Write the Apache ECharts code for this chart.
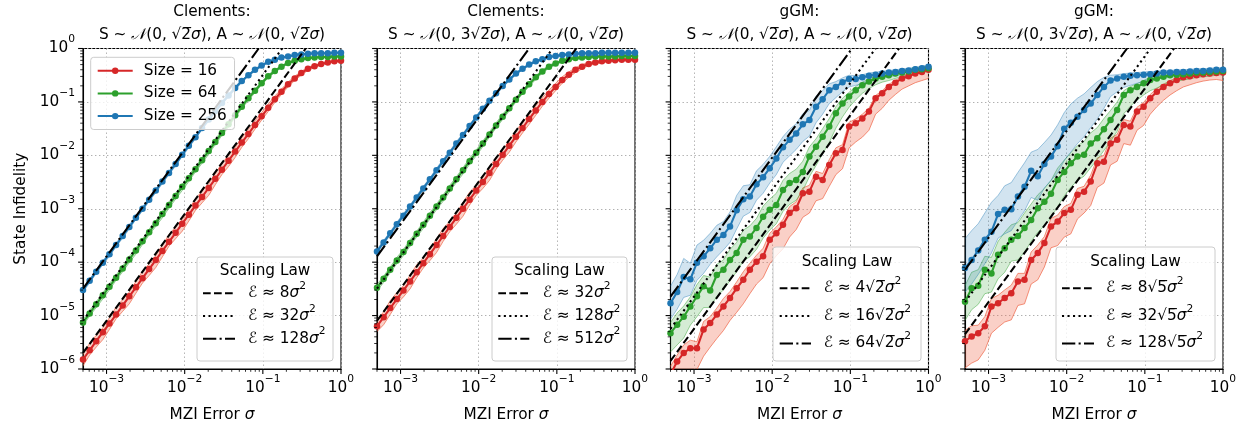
<!DOCTYPE html>
<html><head><meta charset="utf-8">
<script src="https://cdn.jsdelivr.net/npm/echarts@6.0.0/dist/echarts.min.js"></script>
<style>html,body{margin:0;padding:0;background:#fff;}#chart{width:1250px;height:425px;}</style>
</head><body><div id="chart"></div>
<script>
// ---------------- DATA ----------------
// MZI error sigma (x values, shared by all panels)
const sigma = [5.00e-4,6.08e-4,7.38e-4,8.97e-4,1.09e-3,1.325e-3,1.61e-3,1.956e-3,2.377e-3,2.888e-3,
  3.51e-3,4.266e-3,5.184e-3,6.3e-3,7.655e-3,9.302e-3,1.130e-2,1.374e-2,1.669e-2,2.028e-2,
  2.465e-2,2.995e-2,3.64e-2,4.423e-2,5.375e-2,6.532e-2,7.937e-2,9.645e-2,0.1172,0.1424,
  0.1731,0.2103,0.2556,0.3106,0.3774,0.4586,0.5573,0.6772,0.8229,1.0];
const sizeNames = ['Size = 16','Size = 64','Size = 256'];

// State infidelity, stored as log10 values; *_up / *_dn = band extent above / below (decades)
// Panel 1: Clements, S~N(0,√2σ)
const clem1_n16 = [-5.82,-5.65,-5.48,-5.31,-5.15,-4.98,-4.81,-4.64,-4.47,-4.30,-4.13,-3.96,-3.79,-3.62,-3.45,-3.28,-3.11,-2.94,-2.78,-2.61,-2.44,-2.27,-2.10,-1.93,-1.76,-1.60,-1.43,-1.27,-1.11,-0.95,-0.81,-0.67,-0.56,-0.46,-0.38,-0.33,-0.29,-0.26,-0.24,-0.23];
const clem1_n16_up = [0.10,0.13,0.11,0.08,0.11,0.14,0.11,0.08,0.11,0.13,0.10,0.08,0.11,0.14,0.11,0.08,0.10,0.13,0.11,0.08,0.10,0.12,0.10,0.08,0.09,0.09,0.08,0.07,0.07,0.06,0.05,0.04,0.04,0.03,0.03,0.02,0.02,0.02,0.02,0.02];
const clem1_n16_dn = [0.12,0.09,0.11,0.14,0.11,0.08,0.11,0.14,0.11,0.09,0.12,0.14,0.11,0.08,0.11,0.14,0.12,0.09,0.11,0.14,0.11,0.09,0.11,0.11,0.09,0.09,0.08,0.07,0.07,0.06,0.05,0.05,0.04,0.04,0.03,0.03,0.02,0.02,0.02,0.02];
const clem1_n64 = [-5.13,-4.96,-4.79,-4.62,-4.46,-4.29,-4.12,-3.95,-3.78,-3.61,-3.44,-3.27,-3.10,-2.93,-2.76,-2.59,-2.43,-2.26,-2.09,-1.92,-1.75,-1.58,-1.42,-1.25,-1.09,-0.93,-0.79,-0.65,-0.52,-0.42,-0.34,-0.27,-0.23,-0.20,-0.18,-0.17,-0.16,-0.16,-0.15,-0.15];
const clem1_n64_up = [0.05,0.06,0.05,0.05,0.06,0.05,0.05,0.06,0.05,0.05,0.06,0.05,0.05,0.06,0.05,0.05,0.06,0.05,0.05,0.05,0.05,0.05,0.04,0.04,0.04,0.03,0.03,0.03,0.03,0.02,0.02,0.02,0.02,0.02,0.01,0.01,0.01,0.01,0.01,0.01];
const clem1_n64_dn = [0.06,0.05,0.06,0.07,0.06,0.05,0.06,0.06,0.07,0.06,0.05,0.06,0.07,0.06,0.06,0.07,0.06,0.05,0.06,0.06,0.05,0.05,0.05,0.04,0.04,0.04,0.04,0.03,0.03,0.03,0.02,0.02,0.02,0.02,0.02,0.01,0.01,0.01,0.01,0.01];
const clem1_n256 = [-4.52,-4.35,-4.18,-4.01,-3.85,-3.68,-3.51,-3.34,-3.17,-3.00,-2.83,-2.66,-2.49,-2.33,-2.16,-1.99,-1.82,-1.66,-1.49,-1.33,-1.17,-1.02,-0.88,-0.74,-0.61,-0.50,-0.40,-0.32,-0.25,-0.21,-0.17,-0.15,-0.12,-0.11,-0.10,-0.09,-0.09,-0.09,-0.08,-0.08];
const clem1_n256_up = [0.04,0.03,0.04,0.04,0.03,0.04,0.03,0.04,0.04,0.03,0.04,0.03,0.04,0.03,0.03,0.04,0.03,0.03,0.03,0.03,0.03,0.03,0.03,0.03,0.02,0.02,0.02,0.02,0.02,0.01,0.01,0.01,0.01,0.01,0.01,0.01,0.01,0.01,0.01,0.01];
const clem1_n256_dn = [0.04,0.04,0.03,0.04,0.04,0.03,0.04,0.04,0.03,0.04,0.03,0.04,0.04,0.03,0.04,0.03,0.04,0.03,0.03,0.03,0.03,0.03,0.03,0.03,0.03,0.02,0.02,0.02,0.02,0.02,0.01,0.01,0.01,0.01,0.01,0.01,0.01,0.01,0.01,0.01];

// Panel 2: Clements, S~N(0,3√2σ)
const clem2_n16 = [-5.20,-5.03,-4.86,-4.69,-4.53,-4.36,-4.19,-4.02,-3.85,-3.68,-3.51,-3.34,-3.17,-3.00,-2.83,-2.66,-2.50,-2.33,-2.16,-1.99,-1.82,-1.65,-1.49,-1.32,-1.16,-1.00,-0.85,-0.72,-0.59,-0.49,-0.40,-0.34,-0.29,-0.26,-0.24,-0.23,-0.22,-0.21,-0.21,-0.21];
const clem2_n16_up = [0.12,0.10,0.14,0.12,0.09,0.12,0.14,0.10,0.09,0.12,0.14,0.10,0.09,0.12,0.14,0.10,0.09,0.12,0.12,0.09,0.10,0.12,0.10,0.09,0.09,0.08,0.07,0.07,0.06,0.05,0.04,0.04,0.03,0.03,0.02,0.02,0.02,0.02,0.02,0.02];
const clem2_n16_dn = [0.10,0.14,0.12,0.09,0.12,0.14,0.10,0.09,0.12,0.14,0.10,0.09,0.12,0.14,0.10,0.09,0.12,0.14,0.10,0.10,0.12,0.10,0.09,0.10,0.09,0.08,0.08,0.07,0.06,0.05,0.05,0.04,0.03,0.03,0.03,0.02,0.02,0.02,0.02,0.02];
const clem2_n64 = [-4.48,-4.31,-4.14,-3.97,-3.81,-3.64,-3.47,-3.30,-3.13,-2.96,-2.79,-2.62,-2.45,-2.28,-2.11,-1.95,-1.78,-1.61,-1.44,-1.28,-1.12,-0.96,-0.81,-0.67,-0.54,-0.43,-0.34,-0.28,-0.23,-0.20,-0.18,-0.17,-0.16,-0.15,-0.15,-0.15,-0.15,-0.14,-0.14,-0.14];
const clem2_n64_up = [0.06,0.05,0.05,0.06,0.05,0.06,0.05,0.05,0.06,0.05,0.05,0.06,0.05,0.05,0.06,0.05,0.05,0.05,0.05,0.05,0.04,0.04,0.04,0.03,0.03,0.03,0.03,0.02,0.02,0.02,0.02,0.02,0.01,0.01,0.01,0.01,0.01,0.01,0.01,0.01];
const clem2_n64_dn = [0.06,0.07,0.06,0.06,0.07,0.06,0.06,0.07,0.06,0.06,0.07,0.06,0.06,0.07,0.06,0.06,0.06,0.05,0.05,0.05,0.05,0.04,0.04,0.04,0.04,0.03,0.03,0.03,0.02,0.02,0.02,0.02,0.02,0.01,0.01,0.01,0.01,0.01,0.01,0.01];
const clem2_n256 = [-3.80,-3.63,-3.46,-3.29,-3.13,-2.96,-2.79,-2.62,-2.45,-2.28,-2.11,-1.95,-1.78,-1.62,-1.45,-1.29,-1.13,-0.98,-0.84,-0.70,-0.58,-0.47,-0.38,-0.30,-0.24,-0.20,-0.16,-0.14,-0.12,-0.11,-0.10,-0.09,-0.09,-0.09,-0.08,-0.08,-0.08,-0.08,-0.08,-0.08];
const clem2_n256_up = [0.04,0.04,0.03,0.04,0.04,0.03,0.04,0.04,0.03,0.04,0.04,0.03,0.04,0.03,0.03,0.03,0.03,0.03,0.03,0.03,0.02,0.02,0.02,0.02,0.02,0.01,0.01,0.01,0.01,0.01,0.01,0.01,0.01,0.01,0.01,0.01,0.01,0.01,0.01,0.01];
const clem2_n256_dn = [0.04,0.03,0.04,0.04,0.03,0.04,0.04,0.03,0.04,0.04,0.03,0.04,0.03,0.04,0.03,0.03,0.03,0.03,0.03,0.03,0.03,0.02,0.02,0.02,0.02,0.02,0.01,0.01,0.01,0.01,0.01,0.01,0.01,0.01,0.01,0.01,0.01,0.01,0.01,0.01];

// Panel 3: gGM, S~N(0,√2σ)
const ggm1_n16 = [-6.10,-5.86,-5.70,-5.61,-5.61,-5.26,-5.14,-4.98,-4.83,-4.67,-4.49,-4.33,-4.14,-3.99,-3.89,-3.58,-3.46,-3.30,-3.08,-2.99,-2.71,-2.68,-2.40,-2.46,-2.18,-1.96,-1.90,-1.46,-1.40,-1.31,-1.18,-0.93,-0.84,-0.72,-0.64,-0.56,-0.52,-0.47,-0.44,-0.40];
const ggm1_n16_up = [0.15,0.12,0.15,0.15,0.12,0.15,0.12,0.12,0.15,0.12,0.12,0.15,0.12,0.12,0.15,0.12,0.12,0.10,0.12,0.12,0.10,0.12,0.10,0.12,0.10,0.10,0.10,0.08,0.08,0.08,0.06,0.05,0.05,0.05,0.04,0.04,0.04,0.04,0.03,0.03];
const ggm1_n16_dn = [0.45,0.50,0.50,0.45,0.40,0.50,0.45,0.45,0.45,0.42,0.45,0.45,0.45,0.42,0.40,0.45,0.42,0.45,0.45,0.40,0.45,0.40,0.45,0.35,0.40,0.40,0.35,0.40,0.35,0.35,0.35,0.30,0.28,0.25,0.22,0.20,0.18,0.17,0.16,0.16];
const ggm1_n64 = [-5.33,-5.17,-5.02,-4.83,-4.64,-4.45,-4.53,-4.24,-4.14,-3.96,-3.83,-3.58,-3.52,-3.36,-3.15,-3.02,-2.93,-2.65,-2.52,-2.46,-2.31,-2.02,-1.84,-1.65,-1.46,-1.21,-1.03,-0.90,-0.78,-0.69,-0.62,-0.56,-0.53,-0.50,-0.47,-0.45,-0.43,-0.40,-0.39,-0.37];
const ggm1_n64_up = [0.20,0.22,0.20,0.18,0.22,0.20,0.25,0.20,0.18,0.20,0.20,0.18,0.20,0.18,0.20,0.20,0.22,0.18,0.18,0.20,0.20,0.18,0.15,0.15,0.15,0.12,0.10,0.08,0.07,0.06,0.05,0.05,0.04,0.04,0.04,0.04,0.04,0.04,0.04,0.04];
const ggm1_n64_dn = [0.35,0.38,0.40,0.35,0.38,0.40,0.32,0.40,0.38,0.38,0.35,0.40,0.38,0.40,0.40,0.38,0.35,0.40,0.40,0.38,0.35,0.38,0.35,0.32,0.30,0.28,0.25,0.20,0.18,0.15,0.13,0.12,0.10,0.10,0.09,0.08,0.08,0.07,0.07,0.06];
const ggm1_n256 = [-4.77,-4.56,-4.28,-4.32,-4.01,-3.89,-3.74,-3.58,-3.49,-3.33,-3.03,-2.82,-2.77,-2.54,-2.41,-2.24,-2.06,-1.85,-1.71,-1.59,-1.42,-1.34,-1.09,-0.95,-0.78,-0.72,-0.63,-0.57,-0.57,-0.54,-0.51,-0.49,-0.47,-0.45,-0.44,-0.42,-0.41,-0.39,-0.37,-0.34];
const ggm1_n256_up = [0.32,0.33,0.35,0.30,0.33,0.30,0.28,0.27,0.25,0.27,0.28,0.25,0.22,0.25,0.24,0.22,0.22,0.20,0.20,0.18,0.20,0.18,0.20,0.16,0.12,0.10,0.08,0.07,0.06,0.05,0.05,0.05,0.04,0.04,0.04,0.04,0.04,0.04,0.04,0.04];
const ggm1_n256_dn = [0.30,0.32,0.38,0.30,0.33,0.32,0.30,0.32,0.28,0.30,0.35,0.32,0.30,0.30,0.30,0.28,0.30,0.28,0.30,0.30,0.32,0.30,0.30,0.28,0.25,0.20,0.18,0.15,0.12,0.12,0.10,0.09,0.08,0.08,0.07,0.07,0.06,0.06,0.05,0.05];

// Panel 4: gGM, S~N(0,3√2σ)
const ggm2_n16 = [-5.48,-5.39,-5.33,-5.20,-4.83,-4.77,-4.67,-4.58,-4.36,-4.33,-3.96,-3.83,-3.64,-3.33,-3.24,-3.08,-3.02,-2.74,-2.68,-2.49,-2.15,-2.12,-1.78,-1.71,-1.43,-1.46,-1.18,-1.09,-0.93,-0.81,-0.72,-0.65,-0.59,-0.54,-0.52,-0.50,-0.48,-0.47,-0.46,-0.45];
const ggm2_n16_up = [0.20,0.20,0.15,0.18,0.15,0.15,0.15,0.15,0.15,0.12,0.15,0.15,0.12,0.15,0.12,0.12,0.12,0.12,0.10,0.12,0.10,0.12,0.10,0.10,0.10,0.10,0.08,0.08,0.07,0.06,0.05,0.05,0.04,0.04,0.04,0.04,0.04,0.04,0.04,0.04];
const ggm2_n16_dn = [0.50,0.50,0.50,0.45,0.50,0.45,0.45,0.50,0.45,0.45,0.45,0.50,0.45,0.40,0.45,0.45,0.45,0.45,0.40,0.45,0.45,0.40,0.40,0.40,0.35,0.35,0.35,0.35,0.30,0.28,0.25,0.22,0.20,0.18,0.16,0.14,0.13,0.12,0.12,0.15];
const ggm2_n64 = [-4.74,-4.49,-4.44,-4.14,-4.21,-3.86,-3.74,-3.58,-3.51,-3.36,-3.21,-2.99,-2.87,-2.72,-2.46,-2.31,-2.15,-2.02,-1.99,-1.78,-1.68,-1.51,-1.34,-1.15,-0.87,-0.78,-0.72,-0.65,-0.59,-0.56,-0.53,-0.50,-0.49,-0.48,-0.47,-0.45,-0.45,-0.44,-0.43,-0.42];
const ggm2_n64_up = [0.30,0.30,0.30,0.25,0.30,0.25,0.30,0.28,0.25,0.28,0.30,0.25,0.25,0.25,0.22,0.22,0.20,0.20,0.25,0.20,0.20,0.20,0.18,0.15,0.08,0.07,0.06,0.05,0.05,0.05,0.04,0.04,0.04,0.04,0.04,0.04,0.04,0.04,0.04,0.04];
const ggm2_n64_dn = [0.35,0.40,0.35,0.45,0.35,0.45,0.45,0.40,0.45,0.45,0.40,0.45,0.45,0.45,0.50,0.45,0.45,0.45,0.40,0.45,0.40,0.40,0.40,0.40,0.35,0.30,0.25,0.22,0.20,0.18,0.15,0.13,0.12,0.11,0.10,0.09,0.08,0.08,0.07,0.07];
const ggm2_n256 = [-4.11,-3.96,-3.78,-3.58,-3.43,-3.10,-3.02,-3.01,-2.77,-2.59,-2.29,-2.39,-2.16,-2.02,-1.83,-1.50,-1.39,-1.28,-1.15,-1.03,-0.87,-0.72,-0.60,-0.56,-0.53,-0.51,-0.50,-0.49,-0.48,-0.47,-0.45,-0.45,-0.44,-0.44,-0.43,-0.42,-0.42,-0.41,-0.40,-0.40];
const ggm2_n256_up = [0.55,0.55,0.50,0.50,0.55,0.35,0.45,0.50,0.45,0.45,0.35,0.50,0.40,0.40,0.40,0.30,0.35,0.35,0.30,0.30,0.25,0.18,0.10,0.07,0.06,0.05,0.05,0.05,0.05,0.04,0.04,0.04,0.04,0.04,0.04,0.04,0.04,0.04,0.04,0.04];
const ggm2_n256_dn = [0.45,0.45,0.45,0.45,0.40,0.45,0.45,0.40,0.45,0.45,0.50,0.45,0.45,0.45,0.50,0.60,0.55,0.50,0.50,0.45,0.45,0.40,0.30,0.25,0.20,0.18,0.15,0.13,0.12,0.10,0.10,0.09,0.08,0.08,0.07,0.07,0.06,0.06,0.06,0.05];

// Scaling-law reference lines: [sigma, infidelity] end points (E = k sigma^2)
const law_clem1 = [ [[5e-4,2e-6],[0.3536,1]], [[5e-4,8e-6],[0.1768,1]], [[5e-4,3.2e-5],[0.0884,1]] ];
const law_clem2 = [ [[5e-4,8e-6],[0.1768,1]], [[5e-4,3.2e-5],[0.0884,1]], [[5e-4,1.28e-4],[0.0442,1]] ];
const law_ggm1  = [ [[5e-4,1.414e-6],[0.4204,1]], [[5e-4,5.657e-6],[0.2102,1]], [[5e-4,2.263e-5],[0.1051,1]] ];
const law_ggm2  = [ [[5e-4,4.472e-6],[0.2364,1]], [[5e-4,1.789e-5],[0.1182,1]], [[5e-4,7.155e-5],[0.0591,1]] ];
const lawCoefLabels = [ ['8','32','128'], ['32','128','512'], ['4\u221A2\u0305','16\u221A2\u0305','64\u221A2\u0305'], ['8\u221A5\u0305','32\u221A5\u0305','128\u221A5\u0305'] ];

// Titles
const titleLine1 = ['Clements:','Clements:','gGM:','gGM:'];
const titleLine2 = [
  'S ~ {N|\uD835\uDCA9}(0, \u221A2\u0305{i|σ}), A ~ {N|\uD835\uDCA9}(0, \u221A2\u0305{i|σ})',
  'S ~ {N|\uD835\uDCA9}(0, 3\u221A2\u0305{i|σ}), A ~ {N|\uD835\uDCA9}(0, \u221A2\u0305{i|σ})',
  'S ~ {N|\uD835\uDCA9}(0, \u221A2\u0305{i|σ}), A ~ {N|\uD835\uDCA9}(0, \u221A2\u0305{i|σ})',
  'S ~ {N|\uD835\uDCA9}(0, 3\u221A2\u0305{i|σ}), A ~ {N|\uD835\uDCA9}(0, \u221A2\u0305{i|σ})'
];
// Axis ticks
const xMajorTicks = [1e-3,1e-2,1e-1,1];
const yMajorTicks = [1e-6,1e-5,1e-4,1e-3,1e-2,1e-1,1];

// ---------------- BUILD ----------------
const FONT = '"DejaVu Sans", sans-serif';
const FS = 15.3;
const COLORS = ['#d62728','#2ca02c','#1f77b4'];
const BAND_FILL = ['rgba(240,100,70,0.30)','rgba(44,160,44,0.20)','rgba(31,119,180,0.20)'];
const BAND_EDGE = ['rgba(240,100,70,0.70)','rgba(44,160,44,0.45)','rgba(31,119,180,0.40)'];
const XMIN = 5e-4, XMAX = 1, YMIN = 1e-6, YMAX = 1;
const gridLefts = [83, 377, 670.5, 965];
const GW = 258, GT = 48.5, GH = 320.5;

const xMinorTicks = [], yMinorTicks = [];
for (let e = -4; e <= -1; e++) for (let k = 2; k <= 9; k++) { const v = k * Math.pow(10, e); if (v >= XMIN*0.999 && v <= XMAX) xMinorTicks.push(v); }
for (let e = -6; e <= -1; e++) for (let k = 2; k <= 9; k++) yMinorTicks.push(k * Math.pow(10, e));

const panels = [
  {mean:[clem1_n16,clem1_n64,clem1_n256], up:[clem1_n16_up,clem1_n64_up,clem1_n256_up], dn:[clem1_n16_dn,clem1_n64_dn,clem1_n256_dn], law:law_clem1},
  {mean:[clem2_n16,clem2_n64,clem2_n256], up:[clem2_n16_up,clem2_n64_up,clem2_n256_up], dn:[clem2_n16_dn,clem2_n64_dn,clem2_n256_dn], law:law_clem2},
  {mean:[ggm1_n16,ggm1_n64,ggm1_n256], up:[ggm1_n16_up,ggm1_n64_up,ggm1_n256_up], dn:[ggm1_n16_dn,ggm1_n64_dn,ggm1_n256_dn], law:law_ggm1},
  {mean:[ggm2_n16,ggm2_n64,ggm2_n256], up:[ggm2_n16_up,ggm2_n64_up,ggm2_n256_up], dn:[ggm2_n16_dn,ggm2_n64_dn,ggm2_n256_dn], law:law_ggm2}
];

function makeTok(L, X){
  const base = {fontSize:FS, fontFamily:FONT, color:'#000', lineHeight:L, height:16, verticalAlign:'bottom', padding:[0,0,X,0]};
  return {
    b: Object.assign({}, base),
    i: Object.assign({}, base, {fontStyle:'italic'}),
    e: Object.assign({}, base, {fontStyle:'italic'}),
    s: {fontSize:10.7, fontFamily:FONT, color:'#000', lineHeight:L, height:11, verticalAlign:'top'}
  };
}
const TOK = makeTok(28.6, 6.3);   // tick labels
const TOKL = makeTok(25, 4.5);    // legend entries
function expLabel(v){ const e = Math.round(Math.log10(v)); return '{b|10}{s|' + (e < 0 ? '\u2212' + (-e) : e) + '}'; }

const LAW_DASH = [[7.7,3.3],[2.1,3.4],[13.3,3.3,2.1,3.3]];
const grid = [], xAxis = [], yAxis = [], series = [], title = [], graphic = [];

panels.forEach((p, gi) => {
  const left = gridLefts[gi];
  grid.push({left:left, top:GT, width:GW, height:GH, show:true, borderColor:'#000', borderWidth:1.1, backgroundColor:'rgba(0,0,0,0)', containLabel:false, outerBoundsMode:'none'});
  xAxis.push({type:'log', logBase:10, gridIndex:gi, min:XMIN, max:XMAX,
    axisLine:{show:true, onZero:false, lineStyle:{color:'#000', width:1.1}}, axisTick:{show:false}, minorTick:{show:false},
    splitLine:{show:true, lineStyle:{color:'#b0b0b0', width:1, type:[1.4,2.6]}},
    axisLabel:{show:true, margin:5, showMinLabel:false, showMaxLabel:true, formatter:expLabel, rich:TOK, hideOverlap:false},
    name:'MZI Error {i|σ}', nameLocation:'middle', nameGap:27,
    nameTextStyle:{fontSize:FS, fontFamily:FONT, color:'#000', rich:{i:{fontSize:FS, fontFamily:FONT, fontStyle:'italic', color:'#000'}}}});
  yAxis.push({type:'log', logBase:10, gridIndex:gi, min:YMIN, max:YMAX,
    axisLine:{show:true, onZero:false, lineStyle:{color:'#000', width:1.1}}, axisTick:{show:false}, minorTick:{show:false},
    splitLine:{show:true, lineStyle:{color:'#b0b0b0', width:1, type:[1.4,2.6]}},
    axisLabel:{show:gi===0, margin:8, formatter:expLabel, rich:TOK, showMinLabel:true, showMaxLabel:true, hideOverlap:false},
    name: gi===0 ? 'State Infidelity' : '', nameLocation:'middle', nameGap:54, nameRotate:90,
    nameTextStyle:{fontSize:FS, fontFamily:FONT, color:'#000'}});

  title.push({left:left + GW/2, top:1, textAlign:'center', padding:0, itemGap:0,
    text: titleLine1[gi] + '\n' + titleLine2[gi],
    textStyle:{fontSize:FS, fontFamily:FONT, fontWeight:'normal', color:'#000', lineHeight:22.5,
      rich:{N:{fontSize:FS, fontFamily:FONT, fontStyle:'italic', color:'#000', lineHeight:22.5}, i:{fontSize:FS, fontFamily:FONT, fontStyle:'italic', color:'#000', lineHeight:22.5}}}});

  // bands
  for (let s = 0; s < 3; s++) {
    const pts = sigma.map((x, i) => [x, Math.pow(10, p.mean[s][i] + p.up[s][i]), Math.pow(10, p.mean[s][i] - p.dn[s][i])]);
    const fill = BAND_FILL[s], edge = BAND_EDGE[s];
    series.push({type:'custom', name:'band'+gi+'_'+s, xAxisIndex:gi, yAxisIndex:gi, clip:true, silent:true, z:1,
      data: pts, encode:{x:0, y:[1,2]},
      renderItem: function(params, api){
        if (params.dataIndex !== 0) return null;
        const upper = pts.map(q => api.coord([q[0], q[1]]));
        const lower = pts.map(q => api.coord([q[0], q[2]]));
        return {type:'group', children:[
          {type:'polygon', shape:{points: upper.concat(lower.slice().reverse())}, style:{fill:fill, stroke:null}},
          {type:'polyline', shape:{points: upper}, style:{stroke:edge, lineWidth:1, fill:null}},
          {type:'polyline', shape:{points: lower}, style:{stroke:edge, lineWidth:1, fill:null}}
        ]};
      }});
  }
  // mean lines
  for (let s = 0; s < 3; s++) {
    series.push({type:'line', name:sizeNames[s], xAxisIndex:gi, yAxisIndex:gi, clip:true, z:3,
      data: sigma.map((x, i) => [x, Math.pow(10, p.mean[s][i])]),
      symbol:'circle', symbolSize:6.5, showSymbol:true, showAllSymbol:true,
      lineStyle:{color:COLORS[s], width:2.08}, itemStyle:{color:COLORS[s], borderWidth:0},
      emphasis:{disabled:true}, animation:false});
  }
  // scaling-law lines
  for (let k = 0; k < 3; k++) {
    series.push({type:'line', name:'law'+gi+'_'+k, xAxisIndex:gi, yAxisIndex:gi, clip:true, z:4,
      data: p.law[k], symbol:'none', silent:true,
      lineStyle:{color:'#000', width:2.08, type:LAW_DASH[k], cap:'butt'}, emphasis:{disabled:true}});
  }
  // ticks
  series.push({type:'custom', name:'ticks'+gi, xAxisIndex:gi, yAxisIndex:gi, clip:false, silent:true, z:6,
    data:[[0.01,0.01]],
    renderItem: function(params, api){
      const ch = [];
      const add = (x1,y1,x2,y2,w) => ch.push({type:'line', shape:{x1:x1,y1:y1,x2:x2,y2:y2}, style:{stroke:'#000', lineWidth:w}});
      xMajorTicks.forEach(v => { const q = api.coord([v, YMIN]); add(q[0], q[1], q[0], q[1]+4.9, 1.1); });
      xMinorTicks.forEach(v => { const q = api.coord([v, YMIN]); add(q[0], q[1], q[0], q[1]+2.8, 0.8); });
      yMajorTicks.forEach(v => { const q = api.coord([XMIN, v]); add(q[0], q[1], q[0]-4.9, q[1], 1.1); });
      yMinorTicks.forEach(v => { const q = api.coord([XMIN, v]); add(q[0], q[1], q[0]-2.8, q[1], 0.8); });
      return {type:'group', children:ch};
    }});
});

// Scaling-law legend boxes (layout)
const lawBoxes = [
  {x:197, y:257, w:136, h:104, ty:270.7, ey:[293.3,316,338.7], lx:[203,235], tx:248},
  {x:492, y:257, w:135, h:104, ty:270.7, ey:[293.3,316,338.7], lx:[498.3,529.3], tx:542.7},
  {x:773, y:247, w:148, h:114, ty:261.7, ey:[288.3,316,343.5], lx:[779.7,811], tx:823.7},
  {x:1056, y:247, w:159, h:114, ty:261.7, ey:[288.3,316,343.5], lx:[1062,1094], tx:1106}
];
lawBoxes.forEach((b, gi) => {
  graphic.push({type:'rect', z:50, shape:{x:b.x, y:b.y, width:b.w, height:b.h, r:3}, style:{fill:'rgba(255,255,255,0.8)', stroke:'#cccccc', lineWidth:1}});
  graphic.push({type:'text', z:51, style:{text:'Scaling Law', x:b.x + b.w/2, y:b.ty, align:'center', verticalAlign:'middle', font:FS+'px "DejaVu Sans"', fill:'#000'}});
  for (let k = 0; k < 3; k++) {
    graphic.push({type:'line', z:51, shape:{x1:b.lx[0], y1:b.ey[k], x2:b.lx[1], y2:b.ey[k]}, style:{stroke:'#000', lineWidth:2.08, lineDash:LAW_DASH[k], lineCap:'butt'}});
    graphic.push({type:'text', z:51, style:{text:'{e|\u2130}{b| \u2248 ' + lawCoefLabels[gi][k] + '}{i|σ}{s|2}', rich:TOKL, x:b.tx, y:b.ey[k], align:'left', verticalAlign:'middle', font:FS+'px "DejaVu Sans"', fill:'#000'}});
  }
});

const option = {
  animation:false, backgroundColor:'#fff',
  textStyle:{fontFamily:FONT},
  title:title, grid:grid, xAxis:xAxis, yAxis:yAxis, series:series, graphic:graphic,
  legend:{show:true, data:sizeNames, orient:'vertical', left:90.7, top:57.3, itemWidth:35, itemHeight:8, itemGap:4.7,
    padding:[4.4,7.7,4.4,6], backgroundColor:'rgba(255,255,255,0.8)', borderColor:'#cccccc', borderWidth:1, borderRadius:3,
    selectedMode:false, z:40, textStyle:{fontSize:FS, fontFamily:FONT, color:'#000', lineHeight:18, padding:[0,0,0,6]}}
};
const chart = echarts.init(document.getElementById('chart'), null, {renderer:'canvas', width:1250, height:425});
chart.setOption(option);
</script></body></html>
